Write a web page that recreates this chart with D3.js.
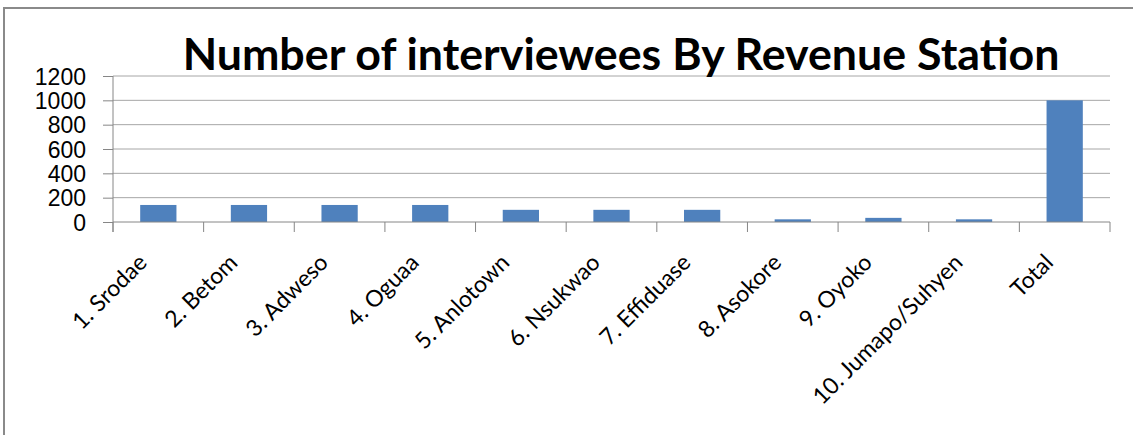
<!DOCTYPE html>
<html>
<head>
	<meta charset="utf-8">
	<title>Number of interviewees By Revenue Station</title>
	<style>
		body {
			margin: 0;
			background: white;
		}
		svg {
			display: block;
			font-family: 'Lato', sans-serif;
		}
	</style>
</head>
<body>
	<svg width='1133' height='435'></svg>
<script src='https://d3js.org/d3.v7.min.js'></script>
<script>

	// chart values
	let stations = ['1. Srodae', '2. Betom', '3. Adweso', '4. Oguaa', '5. Anlotown',
		'6. Nsukwao', '7. Effiduase', '8. Asokore', '9. Oyoko', '10. Jumapo/Suhyen', 'Total']
	let interviewees = [140, 140, 140, 140, 100, 100, 100, 22, 34, 22, 1000]
	let yTicks = [0, 200, 400, 600, 800, 1000, 1200]
	let title = 'Number of interviewees By Revenue Station'

	let data = stations.map((s, i) => ({ name: s, value: interviewees[i] }))

	let svg = d3.select('svg')

	// chart frame, runs off the right and bottom of the picture
	svg.append('rect')
		.attr('x', 4)
		.attr('y', 8)
		.attr('width', 1200)
		.attr('height', 500)
		.style('fill', 'white')
		.style('stroke', '#8a8a8a')
		.style('stroke-width', 2)

	let plotLeft = 113, plotRight = 1110, plotTop = 76, plotBottom = 222

	let x = d3.scaleBand()
		.domain(stations)
		.range([plotLeft, plotRight])
		.paddingInner(0.6)
		.paddingOuter(0.3)

	let y = d3.scaleLinear()
		.domain([0, 1200])
		.range([plotBottom, plotTop])

	// gridlines
	svg.append('g')
		.selectAll('line')
		.data(yTicks.filter(d => d > 0))
		.join('line')
		.attr('x1', plotLeft)
		.attr('x2', plotRight)
		.attr('y1', d => y(d))
		.attr('y2', d => y(d))
		.style('stroke', '#a6a6a6')
		.style('stroke-width', 1)

	// bars
	svg.append('g')
		.selectAll('rect')
		.data(data)
		.join('rect')
		.attr('x', d => x(d.name))
		.attr('width', x.bandwidth())
		.attr('y', d => y(d.value))
		.attr('height', d => y(0) - y(d.value))
		.style('fill', '#4f81bd')

	// y axis
	let yAxis = svg.append('g')
		.attr('transform', `translate(${plotLeft},0)`)
		.call(d3.axisLeft(y)
			.tickValues(yTicks)
			.tickFormat(d3.format('d'))
			.tickSize(10)
			.tickPadding(17)
			.tickSizeOuter(0))

	yAxis.select('.domain').remove()
	yAxis.selectAll('line').style('stroke', '#868686')
	yAxis.selectAll('text')
		.style('font-size', '23px')
		.style('fill', 'black')
		.attr('dy', '0.36em')

	// x axis line and category boundary ticks
	let gap = x.step() - x.bandwidth()
	let bounds = stations.map(s => x(s) - gap / 2)
	bounds.push(plotRight)

	svg.append('line')
		.attr('x1', plotLeft)
		.attr('x2', plotRight)
		.attr('y1', plotBottom)
		.attr('y2', plotBottom)
		.style('stroke', '#868686')

	svg.append('line')
		.attr('x1', plotLeft)
		.attr('x2', plotLeft)
		.attr('y1', plotTop)
		.attr('y2', plotBottom + 10)
		.style('stroke', '#868686')

	svg.append('g')
		.selectAll('line')
		.data(bounds)
		.join('line')
		.attr('x1', d => d)
		.attr('x2', d => d)
		.attr('y1', plotBottom)
		.attr('y2', plotBottom + 10)
		.style('stroke', '#868686')

	// rotated category labels
	svg.append('g')
		.selectAll('text')
		.data(stations)
		.join('text')
		.attr('transform', d => `translate(${x(d) + x.bandwidth() / 2 - 10},${plotBottom + 42}) rotate(-45)`)
		.attr('text-anchor', 'end')
		.style('font-size', '23px')
		.text(d => d)

	// title, scaled to the width it takes in the picture
	let titleText = svg.append('text')
		.attr('x', 621)
		.attr('y', 70)
		.attr('text-anchor', 'middle')
		.style('font-weight', 'bold')
		.style('font-size', '40px')
		.text(title)

	let w = titleText.node().getComputedTextLength()
	titleText.style('font-size', (40 * 877 / w) + 'px')

</script>
</body>
</html>
